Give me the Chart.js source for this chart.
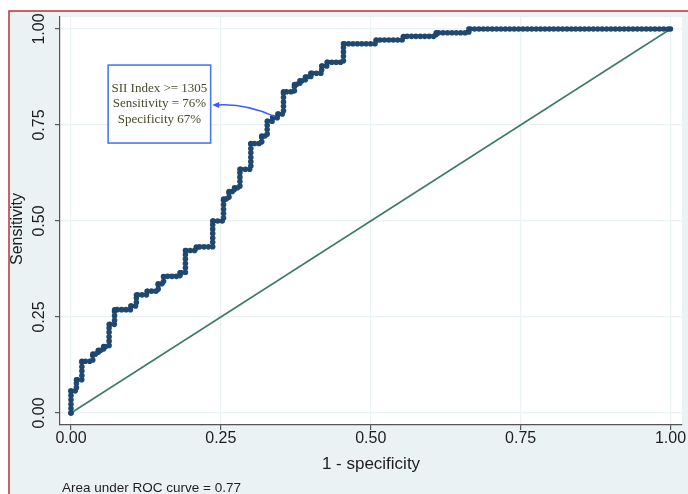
<!DOCTYPE html>
<html><head><meta charset="utf-8">
<script src="https://cdn.jsdelivr.net/npm/chart.js@4.4.1/dist/chart.umd.min.js"></script>
<style>html,body{margin:0;padding:0;background:#fff}</style>
</head><body>
<canvas id="c" width="688" height="494"></canvas>
<script>
// ROC curve: corner points of the staircase (1 - specificity, sensitivity)
const rocX = [0, 0, 0.0091, 0.0182, 0.0364, 0.0455, 0.0545, 0.0636, 0.0727, 0.1, 0.1091, 0.1273, 0.1455, 0.1545, 0.1818, 0.1909, 0.2091, 0.2364, 0.2545, 0.2636, 0.2727, 0.2818, 0.3, 0.3182, 0.3273, 0.3364, 0.3455, 0.3545, 0.3727, 0.3818, 0.3909, 0.4, 0.4182, 0.4273, 0.4545, 0.5091, 0.5545, 0.6091, 0.6636, 1];
const rocY = [0, 0.0577, 0.0865, 0.1346, 0.1538, 0.1635, 0.1731, 0.2308, 0.2692, 0.2788, 0.3077, 0.3173, 0.3365, 0.3558, 0.3654, 0.4231, 0.4327, 0.5, 0.5577, 0.5769, 0.5865, 0.6346, 0.7019, 0.7212, 0.7596, 0.7692, 0.7788, 0.8365, 0.8558, 0.8654, 0.875, 0.8846, 0.9038, 0.9135, 0.9615, 0.9712, 0.9808, 0.9904, 1, 1];
// reference (chance) line
const refX = [0, 1];
const refY = [0, 1];
// axes
const xTicks = [0, 0.25, 0.5, 0.75, 1];
const yTicks = [0, 0.25, 0.5, 0.75, 1];
const xTickLabels = ['0.00', '0.25', '0.50', '0.75', '1.00'];
const yTickLabels = ['0.00', '0.25', '0.50', '0.75', '1.00'];
const xTitle = '1 - specificity';
const yTitle = 'Sensitivity';
const footNote = 'Area under ROC curve = 0.77';
// cut-point annotation
const annLines = ['SII Index >= 1305', 'Sensitivity = 76%', 'Specificity 67%'];
const annBox = [0.062, 0.906, 0.233, 0.703];   // x0, yTop, x1, yBottom (data units)
const annTail = [0.340, 0.772];                // point on curve
const annCtrl = [0.290, 0.807];
const annHead = [0.2355, 0.802];

const NAVY = '#1a476f';
const FOREST = '#3b7a66';
const PANEL = '#eaf2f3';

const decor = {
  id: 'decor',
  beforeDraw(chart) {
    const ctx = chart.ctx, a = chart.chartArea;
    ctx.save();
    ctx.fillStyle = '#ffffff';
    ctx.fillRect(0, 0, chart.width, chart.height);
    ctx.fillStyle = PANEL;
    ctx.fillRect(9, 11, chart.width - 9, chart.height - 11);
    ctx.strokeStyle = '#b8323a';
    ctx.lineWidth = 1.5;
    ctx.beginPath();
    ctx.moveTo(9, chart.height); ctx.lineTo(9, 11); ctx.lineTo(chart.width, 11);
    ctx.stroke();
    ctx.fillStyle = '#ffffff';
    ctx.fillRect(a.left, a.top, a.right - a.left, a.bottom - a.top);
    ctx.restore();
  },
  afterDraw(chart) {
    const ctx = chart.ctx, a = chart.chartArea;
    const xs = chart.scales.x, ys = chart.scales.y;
    ctx.save();
    ctx.fillStyle = '#1e1e1e';
    ctx.font = '16px "Liberation Sans", Arial, sans-serif';
    // x tick labels
    ctx.textAlign = 'center'; ctx.textBaseline = 'middle';
    xTicks.forEach((v, i) => ctx.fillText(xTickLabels[i], xs.getPixelForValue(v), 439));
    // y tick labels (rotated)
    yTicks.forEach((v, i) => {
      ctx.save();
      ctx.translate(40, ys.getPixelForValue(v));
      ctx.rotate(-Math.PI / 2);
      ctx.fillText(yTickLabels[i], 0, 0);
      ctx.restore();
    });
    // titles
    ctx.font = '17px "Liberation Sans", Arial, sans-serif';
    ctx.fillText(xTitle, (a.left + a.right) / 2, 464);
    ctx.font = '16px "Liberation Sans", Arial, sans-serif';
    ctx.save();
    ctx.translate(18, 229);
    ctx.rotate(-Math.PI / 2);
    ctx.fillText(yTitle, 0, 0);
    ctx.restore();
    // footnote
    ctx.font = '13.5px "Liberation Sans", Arial, sans-serif';
    ctx.textAlign = 'left';
    ctx.fillText(footNote, 62, 488);
    // annotation box
    const bx0 = xs.getPixelForValue(annBox[0]), by0 = ys.getPixelForValue(annBox[1]);
    const bx1 = xs.getPixelForValue(annBox[2]), by1 = ys.getPixelForValue(annBox[3]);
    ctx.fillStyle = '#ffffff';
    ctx.fillRect(bx0, by0, bx1 - bx0, by1 - by0);
    ctx.strokeStyle = '#4a78f0';
    ctx.lineWidth = 1.6;
    ctx.strokeRect(bx0, by0, bx1 - bx0, by1 - by0);
    ctx.fillStyle = '#4a4a2c';
    ctx.font = '13px "Liberation Serif", "Times New Roman", serif';
    ctx.textAlign = 'center';
    const cx = (bx0 + bx1) / 2, cy = (by0 + by1) / 2;
    annLines.forEach((t, i) => ctx.fillText(t, cx, cy + (i - 1) * 15.5));
    // arrow
    const tx = xs.getPixelForValue(annTail[0]), ty = ys.getPixelForValue(annTail[1]);
    const qx = xs.getPixelForValue(annCtrl[0]), qy = ys.getPixelForValue(annCtrl[1]);
    const hx = xs.getPixelForValue(annHead[0]), hy = ys.getPixelForValue(annHead[1]);
    ctx.strokeStyle = '#3a5cff';
    ctx.lineWidth = 1.4;
    ctx.beginPath();
    ctx.moveTo(tx, ty);
    ctx.quadraticCurveTo(qx, qy, hx + 5, hy);
    ctx.stroke();
    ctx.fillStyle = '#3a5cff';
    ctx.beginPath();
    ctx.moveTo(hx, hy); ctx.lineTo(hx + 7, hy - 3); ctx.lineTo(hx + 7, hy + 3); ctx.closePath();
    ctx.fill();
    ctx.restore();
  }
};

const toPts = (xa, ya) => xa.map((x, i) => ({x: x, y: ya[i]}));

new Chart(document.getElementById('c'), {
  type: 'line',
  data: {
    datasets: [
      { data: toPts(refX, refY), borderColor: FOREST, borderWidth: 1.5, pointRadius: 0, fill: false, order: 3 },
      { data: toPts(rocX, rocY), stepped: 'before', borderColor: NAVY, borderWidth: 2, pointRadius: 0, fill: false, order: 2 },
      { data: toPts(rocX, rocY), stepped: 'before', borderColor: '#21496f', borderWidth: 5.6, borderDash: [0, 4.4], borderCapStyle: 'round', pointRadius: 2.7, pointBackgroundColor: NAVY, pointBorderWidth: 0, fill: false, order: 1 }
    ]
  },
  options: {
    responsive: false, animation: false, devicePixelRatio: 1,
    layout: { padding: { left: 0, top: 17, right: 6, bottom: 0 } },
    plugins: { legend: { display: false }, tooltip: { enabled: false } },
    scales: {
      x: {
        type: 'linear', min: -0.0183, max: 1.0192,
        afterBuildTicks: s => { s.ticks = xTicks.map(v => ({ value: v })); },
        afterFit: s => { s.height = 69; },
        ticks: { display: false },
        grid: { color: PANEL, lineWidth: 1.2, tickColor: '#555', tickLength: 5, drawTicks: true },
        border: { color: '#555', width: 1.2 }
      },
      y: {
        type: 'linear', min: -0.03125, max: 1.03125,
        afterBuildTicks: s => { s.ticks = yTicks.map(v => ({ value: v })); },
        afterFit: s => { s.width = 60; },
        ticks: { display: false },
        grid: { color: PANEL, lineWidth: 1.2, tickColor: '#555', tickLength: 5, drawTicks: true },
        border: { color: '#555', width: 1.2 }
      }
    }
  },
  plugins: [decor]
});
</script>
</body></html>
